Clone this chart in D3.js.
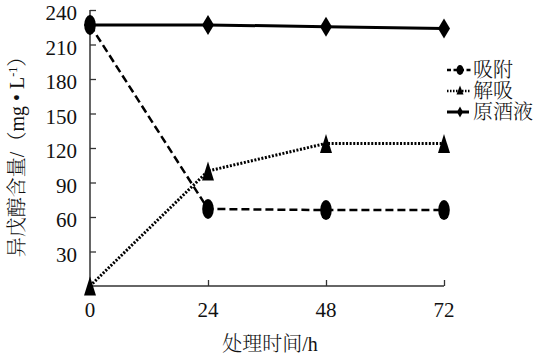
<!DOCTYPE html>
<html>
<head>
<meta charset="utf-8">
<script src="https://cdn.jsdelivr.net/npm/d3@7/dist/d3.min.js"></script>
<style>
  html, body { margin: 0; padding: 0; background: #fff; }
  svg { display: block; }
  text { font-family: "Liberation Serif", "Noto Serif CJK SC", "Noto Sans CJK SC", serif; fill: #111; }
  .cjk { font-weight: 300; }
</style>
</head>
<body>
<svg id="chart" width="540" height="359"></svg>
<script>
const times = [0, 24, 48, 72];
const adsorption = [227, 67, 66, 66];   // 吸附
const desorption = [0, 100, 124, 124];  // 解吸
const rawLiquor = [227, 227, 225.5, 224]; // 原酒液
const seriesNames = ["吸附", "解吸", "原酒液"];
const yTicks = [30, 60, 90, 120, 150, 180, 210, 240];
const xTicks = [0, 24, 48, 72];

const svg = d3.select("#chart");
const x = d3.scaleLinear().domain([0, 72]).range([90, 444]);
const y = d3.scaleLinear().domain([0, 240]).range([286, 10]);

// axes
const axisColor = "#333";
const yAxis = svg.append("g").attr("transform", `translate(${x(0)},0)`)
  .call(d3.axisRight(y).tickValues(yTicks).tickSize(6).tickFormat(""));
yAxis.select(".domain").attr("d", `M0,${y(240)}V${y(0)}`).attr("stroke", axisColor).attr("stroke-width", 1.5);
yAxis.selectAll(".tick line").attr("stroke", axisColor).attr("stroke-width", 1.3);

const xAxis = svg.append("g").attr("transform", `translate(0,${y(0)})`)
  .call(d3.axisTop(x).tickValues([24, 48, 72]).tickSize(6).tickFormat(""));
xAxis.select(".domain").attr("d", `M${x(0)},0H${x(72)}`).attr("stroke", axisColor).attr("stroke-width", 1.5);
xAxis.selectAll(".tick line").attr("stroke", axisColor).attr("stroke-width", 1.3);

// tick labels
svg.append("g").selectAll("text").data(yTicks).join("text")
  .attr("x", 77).attr("y", d => y(d) + 3)
  .attr("text-anchor", "end").attr("dominant-baseline", "central")
  .style("font-size", "21px").text(d => d);
svg.append("g").selectAll("text").data(xTicks).join("text")
  .attr("x", d => x(d)).attr("y", 317)
  .attr("text-anchor", "middle")
  .style("font-size", "21px").text(d => d);

// axis titles
svg.append("text").attr("class", "cjk").attr("x", 270).attr("y", 351).attr("text-anchor", "middle")
  .style("font-size", "20px").text("处理时间/h");
const yt = svg.append("text").attr("class", "cjk").attr("transform", "translate(24,152) rotate(-90)")
  .attr("text-anchor", "middle").style("font-size", "20px");
yt.append("tspan").text("异戊醇含量/（mg • L");
yt.append("tspan").attr("dy", -7).style("font-size", "12px").text("-1");
yt.append("tspan").attr("dy", 7).text("）");

const line = d3.line().x(d => x(d[0])).y(d => y(d[1]));
const zip = vals => times.map((t, i) => [t, vals[i]]);

// lines
svg.append("path").datum(zip(adsorption)).attr("d", line)
  .attr("fill", "none").attr("stroke", "#000").attr("stroke-width", 2.5).attr("stroke-dasharray", "8,4");
svg.append("path").datum(zip(desorption)).attr("d", line)
  .attr("fill", "none").attr("stroke", "#000").attr("stroke-width", 3).attr("stroke-dasharray", "2,1.6");
svg.append("path").datum(zip(rawLiquor)).attr("d", line)
  .attr("fill", "none").attr("stroke", "#000").attr("stroke-width", 3);

// markers
function circle(g, cx, cy, rx, ry) {
  g.append("ellipse").attr("cx", cx).attr("cy", cy).attr("rx", rx).attr("ry", ry).attr("fill", "#000");
}
function tri(g, cx, cy, w, h) {
  g.append("path").attr("d", `M${cx},${cy - h / 2}L${cx + w / 2},${cy + h / 2}L${cx - w / 2},${cy + h / 2}Z`).attr("fill", "#000");
}
function diamond(g, cx, cy, w, h) {
  g.append("path").attr("d", `M${cx},${cy - h / 2}L${cx + w / 2},${cy}L${cx},${cy + h / 2}L${cx - w / 2},${cy}Z`).attr("fill", "#000");
}
const mk = svg.append("g");
zip(rawLiquor).forEach(d => diamond(mk, x(d[0]), y(d[1]), 12, 20));
zip(desorption).forEach(d => tri(mk, x(d[0]), y(d[1]), 12, 19));
zip(adsorption).forEach(d => circle(mk, x(d[0]), y(d[1]), 5.8, 10));

// legend
const legY = [70, 91, 112];
const lg = svg.append("g");
lg.append("line").attr("x1", 447).attr("x2", 471).attr("y1", legY[0]).attr("y2", legY[0])
  .attr("stroke", "#000").attr("stroke-width", 2.5).attr("stroke-dasharray", "4,2.5");
circle(lg, 460, legY[0], 3.5, 5);
lg.append("line").attr("x1", 447).attr("x2", 471).attr("y1", legY[1]).attr("y2", legY[1])
  .attr("stroke", "#000").attr("stroke-width", 2.5).attr("stroke-dasharray", "1.5,1.5");
tri(lg, 460, legY[1] - 1, 7, 9);
lg.append("line").attr("x1", 447).attr("x2", 469).attr("y1", legY[2]).attr("y2", legY[2])
  .attr("stroke", "#000").attr("stroke-width", 3);
diamond(lg, 460, legY[2], 6, 11);
lg.selectAll("text.leg").data(seriesNames).join("text").attr("class", "leg cjk")
  .attr("x", 473).attr("y", (d, i) => legY[i]).attr("dominant-baseline", "central")
  .style("font-size", "20px").text(d => d);
</script>
</body>
</html>
